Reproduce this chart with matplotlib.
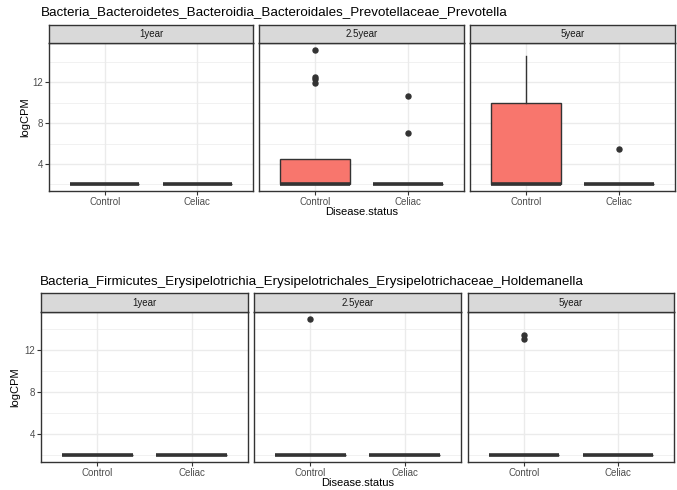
import matplotlib.pyplot as plt

plt.rcParams['font.family'] = ['Liberation Sans', 'DejaVu Sans']

ages = ["1year", "2.5year", "5year"]
groups = ["Control", "Celiac"]

titles = [
    "Bacteria_Bacteroidetes_Bacteroidia_Bacteroidales_Prevotellaceae_Prevotella",
    "Bacteria_Firmicutes_Erysipelotrichia_Erysipelotrichales_Erysipelotrichaceae_Holdemanella",
]

# box summaries per taxon, per age, per group: (q1, median, q3, whisker_lo, whisker_hi)
prevotella_box = [
    [(2, 2, 2, 2, 2), (2, 2, 2, 2, 2)],
    [(2, 2, 4.45, 2, 4.45), (2, 2, 2, 2, 2)],
    [(2, 2, 9.95, 2, 14.6), (2, 2, 2, 2, 2)],
]
prevotella_out = [
    [[], []],
    [[15.2, 12.5, 12.3, 11.9], [10.7, 7.0]],
    [[], [5.5]],
]
holdemanella_box = [
    [(2, 2, 2, 2, 2), (2, 2, 2, 2, 2)],
    [(2, 2, 2, 2, 2), (2, 2, 2, 2, 2)],
    [(2, 2, 2, 2, 2), (2, 2, 2, 2, 2)],
]
holdemanella_out = [
    [[], []],
    [[15.0], []],
    [[13.5, 13.05], []],
]

yticks = [4, 8, 12]
yminor = [2, 6, 10, 14]

W, H = 677, 490
fig = plt.figure(figsize=(W / 100, H / 100), dpi=100)


def px_axes(x0, y0, x1, y1):
    return fig.add_axes([x0 / W, 1 - y1 / H, (x1 - x0) / W, (y1 - y0) / H])


def draw_row(boxes, outs, title, xs, ytop, ystrip, ybot, title_x, title_y, lab_x):
    data_max = max([b[4] for age in boxes for b in age] +
                   [v for age in outs for o in age for v in o])
    data_min = 2
    pad = (data_max - data_min) * 0.05
    for i, (x0, x1) in enumerate(xs):
        ax = px_axes(x0, ystrip, x1, ybot)
        stats = []
        for j, g in enumerate(groups):
            q1, med, q3, lo, hi = boxes[i][j]
            stats.append(dict(q1=q1, med=med, q3=q3, whislo=lo, whishi=hi,
                              fliers=outs[i][j], label=g))
        ax.bxp(stats, positions=[1, 2], widths=0.75, patch_artist=True,
               showcaps=False,
               boxprops=dict(facecolor="#F8766D", edgecolor="#333333", linewidth=1),
               medianprops=dict(color="#333333", linewidth=2.6, solid_capstyle="butt"),
               whiskerprops=dict(color="#333333", linewidth=1),
               flierprops=dict(marker="o", markersize=3.6, markerfacecolor="#333333",
                               markeredgecolor="#333333"))
        ax.set_xlim(0.4, 2.6)
        ax.set_ylim(data_min - pad, data_max + pad)
        ax.set_yticks(yticks)
        ax.set_yticks(yminor, minor=True)
        ax.grid(True, which="major", color="#EBEBEB", linewidth=1)
        ax.grid(True, which="minor", axis="y", color="#EBEBEB", linewidth=0.5)
        ax.set_axisbelow(True)
        for s in ax.spines.values():
            s.set_color("#333333")
            s.set_linewidth(1)
        ax.tick_params(which="major", length=3, color="#333333", labelsize=7,
                       labelcolor="#4D4D4D", pad=1.5)
        ax.tick_params(which="minor", length=0)
        ax.set_xticks([1, 2])
        ax.set_xticklabels(groups)
        if i > 0:
            ax.tick_params(axis="y", which="both", left=False, labelleft=False)
        # facet strip
        sax = px_axes(x0, ytop, x1, ystrip)
        sax.set_facecolor("#D9D9D9")
        sax.set_xticks([])
        sax.set_yticks([])
        for s in sax.spines.values():
            s.set_color("#333333")
            s.set_linewidth(1)
        sax.text(0.5, 0.5, ages[i], ha="center", va="center", fontsize=7,
                 color="#1A1A1A", transform=sax.transAxes)
    fig.text(title_x / W, 1 - title_y / H, title, ha="left", va="center",
             fontsize=9.6, color="black")
    mid = (xs[0][0] + xs[-1][1]) / 2
    fig.text(mid / W, 1 - (ybot + 21) / H, "Disease.status", ha="center",
             va="center", fontsize=8)
    fig.text(lab_x / W, 1 - ((ystrip + ybot) / 2) / H, "logCPM", rotation=90,
             ha="center", va="center", fontsize=8)


draw_row(prevotella_box, prevotella_out, titles[0],
         [(49, 253), (259, 464), (470, 675)], 25, 43, 191, 41, 12, 25)
draw_row(holdemanella_box, holdemanella_out, titles[1],
         [(41, 248), (254, 461), (468, 674)], 293, 312, 462, 40, 282, 15)

fig.savefig("out.png", dpi=100)
